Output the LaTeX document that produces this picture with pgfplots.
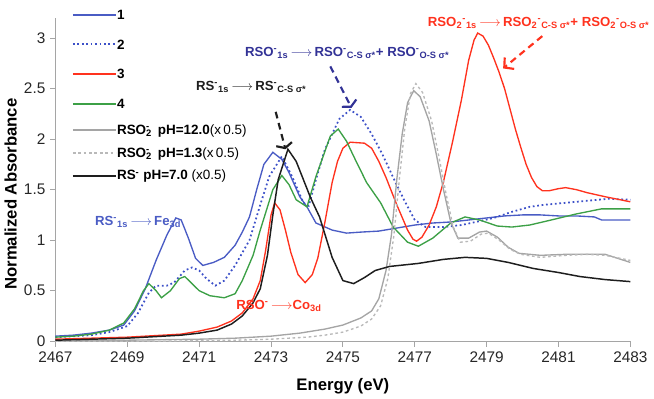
\documentclass[border=0pt]{standalone}
\usepackage{fontspec}
\setmainfont{Liberation Sans}
\usepackage{pgfplots}
\pgfplotsset{compat=1.18}
\usetikzlibrary{arrows.meta}
\definecolor{bluea}{RGB}{74,92,196}
\definecolor{blueb}{RGB}{60,80,200}
\definecolor{redc}{RGB}{255,50,30}
\definecolor{greend}{RGB}{60,160,70}
\definecolor{graya}{RGB}{165,165,165}
\definecolor{grayb}{RGB}{185,185,185}
\definecolor{blackc}{RGB}{30,30,30}
\definecolor{navy}{RGB}{50,50,150}
\newcommand{\sbsp}[2]{\makebox[0pt][l]{\textsuperscript{#2}}\textsubscript{#1}\hspace{0.15em}}
\newcommand{\bigstrut}{\rule[-7.5pt]{0pt}{22pt}}
\newcommand{\smlstrut}{\rule[-5.4pt]{0pt}{17pt}}

\begin{document}
\begin{tikzpicture}[x=0.75pt,y=0.75pt]
\begin{axis}[
  scale only axis,
  width=426.75pt, height=240pt,
  xmin=2467, xmax=2483, ymin=0, ymax=3.2,
  xtick={2467,2469,...,2483},
  ytick={0,0.5,1,1.5,2,2.5,3},
  axis x line*=bottom, axis y line*=left,
  axis line style={graya, line width=0.6pt},
  tick style={graya, line width=0.6pt},
  tick align=outside, major tick length=4pt,
  /pgf/number format/assume math mode=true,
  /pgf/number format/set thousands separator={},
  ticklabel style={font=\fontsize{11.4}{13}\selectfont, text=black!85},
  xlabel={\textbf{Energy (eV)}},
  ylabel={\textbf{Normalized Absorbance}},
  label style={font=\fontsize{12.4}{14}\selectfont},
  xlabel style={at={(axis description cs:0.5,-0.14)}, anchor=center},
  ylabel style={at={(axis description cs:-0.078,0.455)}, anchor=center},
  clip=false,
  legend cell align=left,
  legend style={draw=none, fill=none, inner sep=0pt, row sep=0pt,
    at={(axis cs:2467.45,3.38)}, anchor=north west,
    nodes={inner sep=0pt, text depth=},
    /tikz/every even column/.append style={column sep=4pt}},
  legend image code/.code={\draw[#1, line width=1.5pt] (0pt,0pt) -- (32pt,0pt);},
]
% 1
\addplot[bluea, line width=1pt] coordinates {
(2467.0,0.05) (2467.5,0.06) (2468.0,0.08) (2468.5,0.11) (2468.9,0.16)
(2469.2,0.30) (2469.5,0.52) (2469.8,0.80) (2470.1,1.05) (2470.35,1.22)
(2470.5,1.20) (2470.7,1.02) (2470.9,0.82) (2471.1,0.75) (2471.4,0.78)
(2471.7,0.83) (2472.0,0.95) (2472.2,1.08) (2472.4,1.23) (2472.6,1.50)
(2472.8,1.75) (2473.05,1.87) (2473.3,1.80) (2473.5,1.67) (2473.8,1.43)
(2474.0,1.33) (2474.25,1.17) (2474.7,1.10) (2475.1,1.07) (2475.5,1.08)
(2476.0,1.09) (2476.5,1.12) (2477.0,1.15) (2477.5,1.17) (2478.0,1.18)
(2478.5,1.20) (2479.0,1.22) (2479.5,1.24) (2480.0,1.25) (2480.5,1.25)
(2481.0,1.24) (2481.5,1.24) (2482.0,1.23) (2482.2,1.20) (2483.0,1.20)
};
\addlegendentry{\bigstrut\textbf{1}}
% 2
\addplot[blueb, line width=1.3pt, dotted] coordinates {
(2467.0,0.04) (2467.5,0.05) (2468.0,0.06) (2468.5,0.09) (2469.0,0.15)
(2469.3,0.28) (2469.6,0.48) (2469.8,0.55) (2470.1,0.55) (2470.3,0.58)
(2470.6,0.70) (2470.8,0.73) (2471.0,0.70) (2471.2,0.62) (2471.45,0.55)
(2471.7,0.60) (2472.0,0.75) (2472.4,1.00) (2472.7,1.35) (2472.95,1.63)
(2473.3,1.83) (2473.6,1.62) (2473.9,1.37) (2474.05,1.34) (2474.25,1.60)
(2474.5,1.90) (2474.9,2.20) (2475.2,2.29) (2475.5,2.22) (2475.8,2.05)
(2476.1,1.85) (2476.4,1.62) (2476.7,1.40) (2477.0,1.20) (2477.3,1.13)
(2477.8,1.13) (2478.3,1.15) (2478.7,1.18) (2479.2,1.22) (2479.7,1.28)
(2480.2,1.33) (2480.6,1.35) (2481.2,1.37) (2481.8,1.39) (2482.4,1.41)
(2483.0,1.40)
};
\addlegendentry{\bigstrut\textbf{2}}
% 3
\addplot[redc, line width=1pt] coordinates {
(2467.0,0.02) (2468.0,0.03) (2469.0,0.04) (2470.0,0.06) (2470.5,0.07)
(2471.0,0.10) (2471.5,0.14) (2471.9,0.20) (2472.2,0.28) (2472.5,0.42)
(2472.7,0.60) (2472.85,0.90) (2473.0,1.25) (2473.1,1.37) (2473.25,1.30)
(2473.4,1.10) (2473.55,0.88) (2473.75,0.66) (2473.95,0.58) (2474.15,0.66)
(2474.3,0.82) (2474.5,1.18) (2474.7,1.57) (2474.85,1.78) (2475.0,1.91)
(2475.2,1.97) (2475.6,1.96) (2475.8,1.91) (2476.0,1.78) (2476.2,1.62)
(2476.5,1.35) (2476.8,1.10) (2476.95,1.01) (2477.05,0.99) (2477.2,1.03)
(2477.4,1.15) (2477.6,1.33) (2477.8,1.58) (2478.05,1.97) (2478.3,2.39)
(2478.5,2.78) (2478.65,2.98) (2478.75,3.05) (2478.9,3.02) (2479.05,2.93)
(2479.2,2.80) (2479.35,2.66) (2479.5,2.50) (2479.65,2.30) (2479.8,2.10)
(2479.95,1.92) (2480.1,1.75) (2480.25,1.62) (2480.4,1.53) (2480.55,1.49)
(2480.75,1.49) (2481.0,1.51) (2481.2,1.52) (2481.5,1.50) (2481.8,1.47)
(2482.3,1.43) (2483.0,1.38)
};
\addlegendentry{\bigstrut\textbf{3}}
% 4
\addplot[greend, line width=1pt] coordinates {
(2467.0,0.04) (2467.5,0.05) (2468.0,0.07) (2468.5,0.11) (2468.9,0.18)
(2469.2,0.32) (2469.45,0.50) (2469.6,0.57) (2469.8,0.50) (2469.95,0.43)
(2470.2,0.50) (2470.45,0.62) (2470.6,0.64) (2470.8,0.57) (2471.0,0.50)
(2471.3,0.45) (2471.7,0.43) (2472.0,0.47) (2472.2,0.60) (2472.5,0.85)
(2472.7,1.10) (2473.05,1.50) (2473.3,1.64) (2473.5,1.55) (2473.7,1.40)
(2474.0,1.33) (2474.25,1.63) (2474.65,2.03) (2474.87,2.10) (2475.1,1.98)
(2475.3,1.83) (2475.66,1.57) (2476.05,1.37) (2476.4,1.13) (2476.8,0.98)
(2477.1,0.94) (2477.5,1.02) (2478.0,1.17) (2478.4,1.23) (2478.8,1.20)
(2479.3,1.14) (2479.7,1.13) (2480.2,1.15) (2480.8,1.20) (2481.5,1.26)
(2482.2,1.31) (2483.0,1.31)
};
\addlegendentry{\bigstrut\textbf{4}}
% RSO2- pH 12.0
\addplot[graya, line width=1pt] coordinates {
(2467.0,0.00) (2469.0,0.01) (2471.0,0.02) (2472.0,0.03) (2473.0,0.05)
(2473.8,0.08) (2474.5,0.12) (2475.0,0.16) (2475.5,0.23) (2475.8,0.30)
(2476.0,0.42) (2476.2,0.70) (2476.35,1.05) (2476.5,1.60) (2476.65,2.05)
(2476.8,2.36) (2476.97,2.48) (2477.15,2.42) (2477.4,2.18) (2477.6,1.85)
(2477.8,1.50) (2478.0,1.18) (2478.2,1.02) (2478.5,1.02) (2478.8,1.08)
(2479.0,1.09) (2479.3,1.03) (2479.6,0.93) (2479.9,0.87) (2480.5,0.85)
(2481.2,0.86) (2481.8,0.86) (2482.3,0.86) (2483.0,0.78)
};
\addlegendentry{\smlstrut\textbf{RSO\sbsp{2}{-} pH=12.0}(x\,0.5)}
% RSO2- pH 1.3
\addplot[grayb, line width=1pt, dash pattern=on 2pt off 2pt] coordinates {
(2467.0,0.00) (2470.0,0.00) (2472.0,0.01) (2473.0,0.02) (2474.0,0.04)
(2474.5,0.06) (2475.0,0.09) (2475.5,0.15) (2475.8,0.22) (2476.05,0.35)
(2476.25,0.62) (2476.42,1.05) (2476.57,1.60) (2476.72,2.10) (2476.88,2.45)
(2477.03,2.55) (2477.22,2.46) (2477.47,2.18) (2477.67,1.83) (2477.87,1.46)
(2478.07,1.13) (2478.27,0.98) (2478.55,0.99) (2478.85,1.06) (2479.05,1.07)
(2479.35,1.00) (2479.65,0.91) (2479.95,0.86) (2480.5,0.83) (2481.2,0.85)
(2481.8,0.86) (2482.3,0.85) (2483.0,0.80)
};
\addlegendentry{\smlstrut\textbf{RSO\sbsp{2}{-} pH=1.3}(x\,0.5)}
% RS- pH 7.0
\addplot[blackc, line width=1.1pt] coordinates {
(2467.0,0.01) (2468.0,0.02) (2469.0,0.03) (2470.0,0.05) (2470.5,0.06)
(2471.0,0.08) (2471.5,0.11) (2471.9,0.17) (2472.2,0.25) (2472.5,0.38)
(2472.7,0.52) (2472.9,0.85) (2473.05,1.25) (2473.2,1.60) (2473.47,1.90)
(2473.7,1.78) (2473.9,1.60) (2474.1,1.42) (2474.35,1.23) (2474.7,0.83)
(2475.0,0.60) (2475.3,0.57) (2475.6,0.63) (2475.9,0.70) (2476.3,0.74)
(2477.1,0.77) (2477.8,0.81) (2478.4,0.83) (2479.0,0.82) (2479.6,0.78)
(2480.3,0.72) (2481.0,0.68) (2481.6,0.64) (2482.3,0.61) (2483.0,0.59)
};
\addlegendentry{\smlstrut\textbf{RS\textsuperscript{-} pH=7.0} (x0.5)}

% annotations
\node[font=\fontsize{9.8}{11}\selectfont\bfseries, text=blackc] at (axis cs:2472.45,2.52)
  {RS\textsuperscript{-}\textsubscript{1s}\,$\longrightarrow$\,RS\textsuperscript{-}\textsubscript{C-S σ*}};
\draw[blackc, line width=1.6pt, dash pattern=on 5pt off 3.5pt, -{Straight Barb[length=3pt,width=12pt]}]
  (axis cs:2473.13,2.27) -- (axis cs:2473.4,1.9);
\node[font=\fontsize{9.8}{11}\selectfont\bfseries, text=navy] at (axis cs:2475.12,2.85)
  {RSO\textsuperscript{-}\textsubscript{1s}\,$\longrightarrow$\,RSO\textsuperscript{-}\textsubscript{C-S σ*}+ RSO\textsuperscript{-}\textsubscript{O-S σ*}};
\draw[navy, line width=1.6pt, dash pattern=on 5pt off 3.5pt, -{Straight Barb[length=3pt,width=12pt]}]
  (axis cs:2474.65,2.72) -- (axis cs:2475.24,2.31);
\node[font=\fontsize{9.8}{11}\selectfont\bfseries, text=redc] at (axis cs:2480.45,3.15)
  {RSO\textsubscript{2}\textsuperscript{-}\textsubscript{1s}\,$\longrightarrow$\,RSO\textsubscript{2}\textsuperscript{-}\textsubscript{C-S σ*}+ RSO\textsubscript{2}\textsuperscript{-}\textsubscript{O-S σ*}};
\draw[redc, line width=1.6pt, dash pattern=on 5pt off 3.5pt, -{Straight Barb[length=5pt,width=11pt]}]
  (axis cs:2480.55,3.02) -- (axis cs:2479.46,2.70);
\node[font=\fontsize{9.8}{11}\selectfont\bfseries, text=bluea] at (axis cs:2469.3,1.18)
  {RS\textsuperscript{-}\textsubscript{1s}\,$\longrightarrow$\,Fe\textsubscript{3d}};
\node[font=\fontsize{9.8}{11}\selectfont\bfseries, text=redc] at (axis cs:2473.22,0.35)
  {RSO\textsuperscript{-}\,$\longrightarrow$Co\textsubscript{3d}};
\end{axis}
\end{tikzpicture}
\end{document}
